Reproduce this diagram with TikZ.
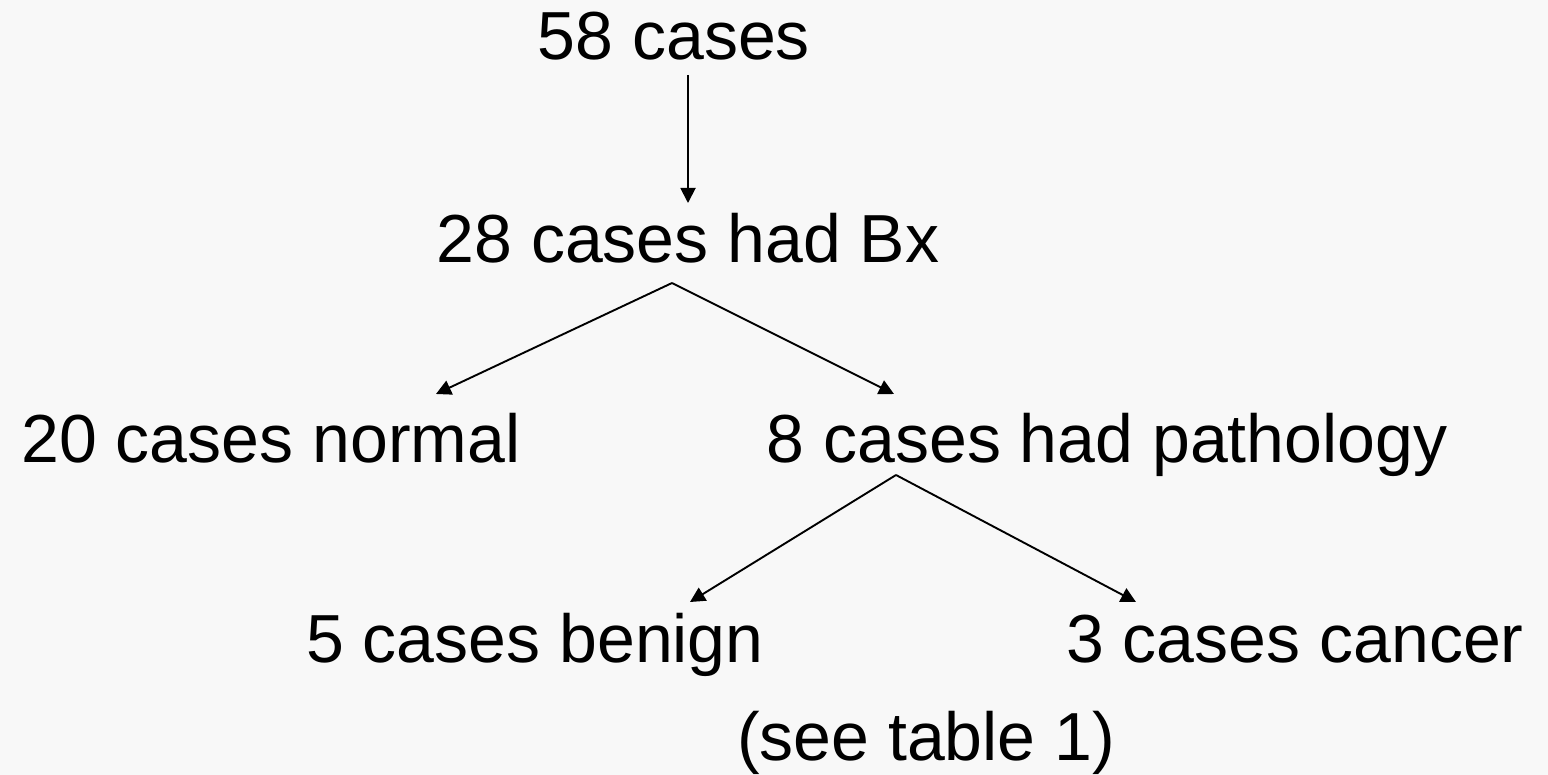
\documentclass[tikz,border=0pt]{standalone}
\usepackage{fontspec}
\setmainfont{Liberation Sans}
\usetikzlibrary{arrows.meta}
\definecolor{bgcol}{RGB}{248,248,248}
\tikzset{
  lbl/.style={anchor=base, inner sep=0pt, font=\fontsize{68}{80}\selectfont, text=black},
  arr/.style={draw=black, line width=1.9pt, -{Triangle[length=15pt,width=15pt]}}
}
\begin{document}
\begin{tikzpicture}[x=1pt,y=-1pt]
\fill[bgcol] (0,0) rectangle (1548,775);
\useasboundingbox (0,0) rectangle (1548,775);
\node[lbl] (n58) at (674,60) {58 cases};
\node[lbl] (n28) at (688,263) {28 cases had Bx};
\node[lbl] (n20) at (271,463) {20 cases normal};
\node[lbl] (n8) at (1107,463) {8 cases had pathology};
\node[lbl] (n5) at (535,662) {5 cases benign};
\node[lbl] (n3) at (1295,662) {3 cases cancer};
\node[lbl] (see) at (926,760) {(see table 1)};
\coordinate (a1s) at (688,75);
\coordinate (a1e) at (688,203);
\coordinate (a2s) at (672,283);
\coordinate (a2l) at (436,394);
\coordinate (a2r) at (894,394);
\coordinate (a3s) at (896,475);
\coordinate (a3l) at (690,602);
\coordinate (a3r) at (1136,602);
\draw[arr] (a1s) -- (a1e);
\draw[arr] (a2s) -- (a2l);
\draw[arr] (a2s) -- (a2r);
\draw[arr] (a3s) -- (a3l);
\draw[arr] (a3s) -- (a3r);
\end{tikzpicture}
\end{document}
